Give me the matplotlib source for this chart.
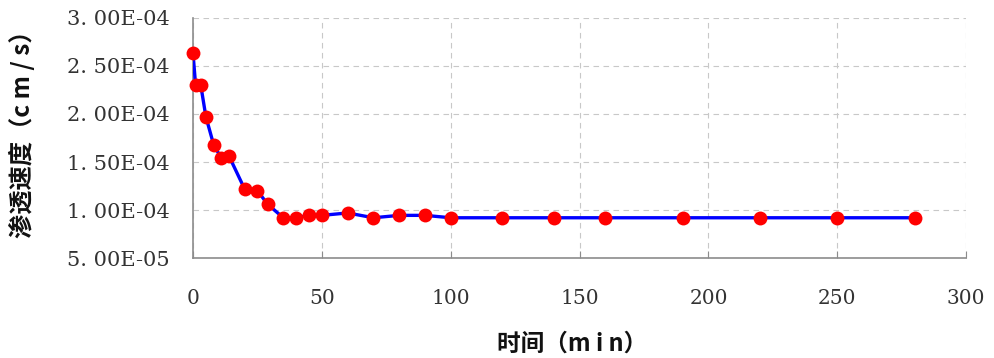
import numpy as np
import matplotlib as mpl
mpl.use('Agg')
import matplotlib.pyplot as plt
from matplotlib.ticker import FuncFormatter, MultipleLocator

# seepage velocity (cm/s) against elapsed time (min)
time_min = [0, 1, 3, 5, 8, 11, 14, 20, 25, 29, 35, 40, 45, 50, 60, 70, 80,
            90, 100, 120, 140, 160, 190, 220, 250, 280]
velocity = [2.63e-4, 2.30e-4, 2.30e-4, 1.97e-4, 1.68e-4, 1.54e-4, 1.56e-4,
            1.22e-4, 1.20e-4, 1.06e-4, 0.92e-4, 0.92e-4, 0.945e-4, 0.945e-4,
            0.97e-4, 0.92e-4, 0.945e-4, 0.945e-4, 0.92e-4, 0.92e-4, 0.92e-4,
            0.92e-4, 0.92e-4, 0.92e-4, 0.92e-4, 0.92e-4]

xlabel = '时间（m i n）'
ylabel = '渗透速度（c m / s）'

cjk = ['Noto Sans CJK SC', 'DejaVu Sans']
tickfont = 'DejaVu Serif'

fig = plt.figure(figsize=(9.95, 3.58), dpi=100)
ax = fig.add_axes([0.194, 0.279, 0.777, 0.671])

ax.plot(time_min, velocity, color='#0000ff', lw=2.4, zorder=3)
ax.plot(time_min, velocity, 'o', color='#ff0000', markersize=10,
        markeredgewidth=0, zorder=4, clip_on=False)

ax.set_xlim(0, 300)
ax.set_ylim(5e-5, 3e-4)
ax.xaxis.set_major_locator(MultipleLocator(50))
ax.yaxis.set_major_locator(MultipleLocator(5e-5))
ax.yaxis.set_major_formatter(
    FuncFormatter(lambda v, p: ('%.2E' % v).replace('.', '. ')))

ax.grid(True, ls=(0, (5, 4)), color='#c8c8c8', lw=0.8)
ax.set_axisbelow(True)
for side in ('top', 'right'):
    ax.spines[side].set_visible(False)
for side in ('left', 'bottom'):
    ax.spines[side].set_color('#8c8c8c')
    ax.spines[side].set_linewidth(1.2)

ax.xaxis.set_tick_params(direction='in', length=5, color='#8c8c8c',
                         pad=22, labelsize=14.5, labelcolor='#333333',
                         labelfontfamily=tickfont)
ax.yaxis.set_tick_params(direction='out', length=14, color='none',
                         pad=3, labelsize=15, labelcolor='#333333',
                         labelfontfamily=tickfont)

ax.set_xlabel(xlabel, family=cjk, fontsize=17, fontweight='bold',
              color='#111111')
ax.set_ylabel(ylabel, family=cjk, fontsize=17.5, fontweight='bold',
              color='#111111')
# label coords anchor the edge of each label facing the axes
ax.xaxis.set_label_coords(0.49, -0.305)
ax.yaxis.set_label_coords(-0.205, 0.54)

fig.savefig('out.png', dpi=100)
